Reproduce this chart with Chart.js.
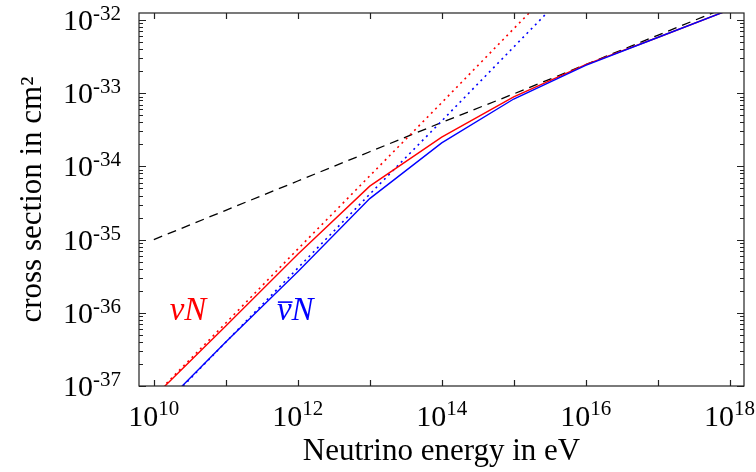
<!DOCTYPE html>
<html>
<head>
<meta charset="utf-8">
<script src="https://cdn.jsdelivr.net/npm/chart.js@4.4.1/dist/chart.umd.min.js"></script>
<style>
  html, body { margin: 0; padding: 0; background: #fff; }
  #wrap { width: 756px; height: 472px; }
</style>
</head>
<body>
<div id="wrap"><canvas id="sigmaChart"></canvas></div>
<script>
// --- DATA ---
// neutrino energy in eV, one point per decade
const energies = [1e10, 1e11, 1e12, 1e13, 1e14, 1e15, 1e16, 1e17, 1e18];
// log10 of the cross section in cm^2
const nuN        = [-37.15, -36.18, -35.20, -34.27, -33.60, -33.05, -32.61, -32.24, -31.86];
const nubarN     = [-37.39, -36.40, -35.44, -34.44, -33.68, -33.08, -32.62, -32.24, -31.86];
// low energy extrapolations (dotted), 1e10 .. 1e16 eV
const nuNLow     = [-37.14, -36.14, -35.13, -34.13, -33.13, -32.12, -31.12];
const nubarNLow  = [-37.41, -36.40, -35.39, -34.38, -33.38, -32.37, -31.36];
// high energy power law (dashed)
const highPower  = [-35.00, -34.60, -34.20, -33.80, -33.40, -33.01, -32.61, -32.21, -31.81];

// axis ticks (exponents)
const xTickExps  = [10, 11, 12, 13, 14, 15, 16, 17, 18];
const xLabelExps = [10, 12, 14, 16, 18];
const yTickExps  = [-37, -36, -35, -34, -33, -32];

// in-plot labels: [x energy exponent, y exponent of baseline]
const labelNu    = [10.22, -36.10];
const labelNubar = [11.71, -36.10];

function toPoints(logs) {
    return logs.map((v, i) => ({ x: energies[i], y: Math.pow(10, v) }));
}
function isDecade(v) {
    const lg = Math.log10(v);
    return Math.abs(lg - Math.round(lg)) < 1e-6;
}

const FONT = "'Liberation Serif', 'Times New Roman', serif";
const BIG = "30px " + FONT;
const SMALL = "21px " + FONT;

// --- cadre + ticks vers l'intérieur ---
const frameTicks = {
    id: 'frameTicks',
    afterDatasetsDraw(chart) {
        const { ctx, chartArea: a, scales: { x, y } } = chart;
        ctx.save();
        ctx.strokeStyle = '#222';
        ctx.lineWidth = 1.2;
        ctx.strokeRect(a.left, a.top, a.right - a.left, a.bottom - a.top);
        ctx.beginPath();
        x.ticks.forEach(t => {
            const px = Math.round(x.getPixelForValue(t.value)) + 0.5;
            ctx.moveTo(px, a.bottom); ctx.lineTo(px, a.bottom - 6);
            ctx.moveTo(px, a.top); ctx.lineTo(px, a.top + 6);
        });
        y.ticks.forEach(t => {
            const len = isDecade(t.value) ? 7 : 4;
            const py = Math.round(y.getPixelForValue(t.value)) + 0.5;
            if (py < a.top || py > a.bottom + 1) return;
            ctx.moveTo(a.left, py); ctx.lineTo(a.left + len, py);
            ctx.moveTo(a.right, py); ctx.lineTo(a.right - len, py);
        });
        ctx.stroke();
        ctx.restore();
    }
};

// --- libellés des axes "10" + exposant ---
const powerLabels = {
    id: 'powerLabels',
    afterDraw(chart) {
        const { ctx, chartArea: a, scales: { x, y } } = chart;
        ctx.save();
        ctx.fillStyle = '#000';
        ctx.textBaseline = 'alphabetic';
        ctx.textAlign = 'left';
        // axe x
        xLabelExps.forEach(e => {
            const px = x.getPixelForValue(Math.pow(10, e));
            const exp = String(e);
            ctx.font = BIG;
            const w1 = ctx.measureText('10').width;
            ctx.font = SMALL;
            const w2 = ctx.measureText(exp).width;
            const x0 = px - (w1 + w2) / 2;
            const base = a.bottom + 40;
            ctx.font = BIG;
            ctx.fillText('10', x0, base);
            ctx.font = SMALL;
            ctx.fillText(exp, x0 + w1, base - 11);
        });
        // axe y
        yTickExps.forEach(e => {
            const py = y.getPixelForValue(Math.pow(10, e));
            const exp = String(e);
            const right = a.left - 18;
            const base = py + 10;
            ctx.font = SMALL;
            const w2 = ctx.measureText(exp).width;
            ctx.fillText(exp, right - w2, base - 10);
            ctx.font = BIG;
            const w1 = ctx.measureText('10').width;
            ctx.fillText('10', right - w2 - w1, base);
        });
        ctx.restore();
    }
};

// --- étiquettes νN et ν̄N ---
const curveLabels = {
    id: 'curveLabels',
    afterDraw(chart) {
        const { ctx, scales: { x, y } } = chart;
        const draw = (pos, color, bar) => {
            const px = x.getPixelForValue(Math.pow(10, pos[0]));
            const py = y.getPixelForValue(Math.pow(10, pos[1]));
            ctx.save();
            ctx.fillStyle = color;
            ctx.strokeStyle = color;
            ctx.font = "italic 33px " + FONT;
            ctx.textBaseline = 'alphabetic';
            ctx.fillText('ν', px, py);
            const w = ctx.measureText('ν').width;
            ctx.fillText('N', px + w, py);
            if (bar) {
                ctx.lineWidth = 1.6;
                ctx.beginPath();
                ctx.moveTo(px + 1, py - 18);
                ctx.lineTo(px + w + 1, py - 18);
                ctx.stroke();
            }
            ctx.restore();
        };
        draw(labelNu, '#ff0000', false);
        draw(labelNubar, '#0000ff', true);
    }
};

function noPad(s) {
    s.paddingTop = 0; s.paddingBottom = 0; s.paddingLeft = 0; s.paddingRight = 0;
}

document.addEventListener('DOMContentLoaded', function () {
    const ctx = document.getElementById('sigmaChart').getContext('2d');
    new Chart(ctx, {
        type: 'line',
        data: {
            datasets: [
                { label: 'nubarN', data: toPoints(nubarN), borderColor: '#0000ff', borderWidth: 1.4, order: 0 },
                { label: 'nuN', data: toPoints(nuN), borderColor: '#ff0000', borderWidth: 1.4, order: 1 },
                { label: 'nubarN low', data: toPoints(nubarNLow), borderColor: '#0000ff', borderWidth: 1.6, borderDash: [2, 4], order: 2 },
                { label: 'nuN low', data: toPoints(nuNLow), borderColor: '#ff0000', borderWidth: 1.6, borderDash: [2, 4], order: 3 },
                { label: 'power law', data: toPoints(highPower), borderColor: '#000000', borderWidth: 1.3, borderDash: [9, 6], order: 4 }
            ]
        },
        options: {
            responsive: true,
            maintainAspectRatio: false,
            animation: false,
            elements: { point: { radius: 0 }, line: { tension: 0, fill: false } },
            layout: { padding: { top: 13, right: 12, left: 0, bottom: 0 } },
            plugins: {
                legend: { display: false },
                tooltip: { enabled: false }
            },
            scales: {
                x: {
                    type: 'logarithmic',
                    min: Math.pow(10, 9.794),
                    max: Math.pow(10, 18.2),
                    grid: { display: false },
                    border: { display: false },
                    afterBuildTicks: s => { s.ticks = xTickExps.map(e => ({ value: Math.pow(10, e) })); },
                    afterFit: s => { s.height = 86; noPad(s); },
                    ticks: { display: false },
                    title: {
                        display: true, text: 'Neutrino energy in eV', color: '#000',
                        font: { family: FONT, size: 31 }, padding: { top: 0, bottom: 2 }
                    }
                },
                y: {
                    type: 'logarithmic',
                    min: 1e-37,
                    max: Math.pow(10, -31.905),
                    grid: { display: false },
                    border: { display: false },
                    afterBuildTicks: s => {
                        const t = [];
                        yTickExps.forEach(e => {
                            for (let m = 1; m <= 9; m++) {
                                const v = m * Math.pow(10, e);
                                if (v <= s.max * 1.0001) t.push({ value: v });
                            }
                        });
                        s.ticks = t;
                    },
                    afterFit: s => { s.width = 139; noPad(s); },
                    ticks: { display: false },
                    title: {
                        display: true, text: 'cross section in cm²', color: '#000',
                        font: { family: FONT, size: 31 }, padding: { top: 14, bottom: 0 }
                    }
                }
            }
        },
        plugins: [frameTicks, powerLabels, curveLabels]
    });
});
</script>
</body>
</html>
